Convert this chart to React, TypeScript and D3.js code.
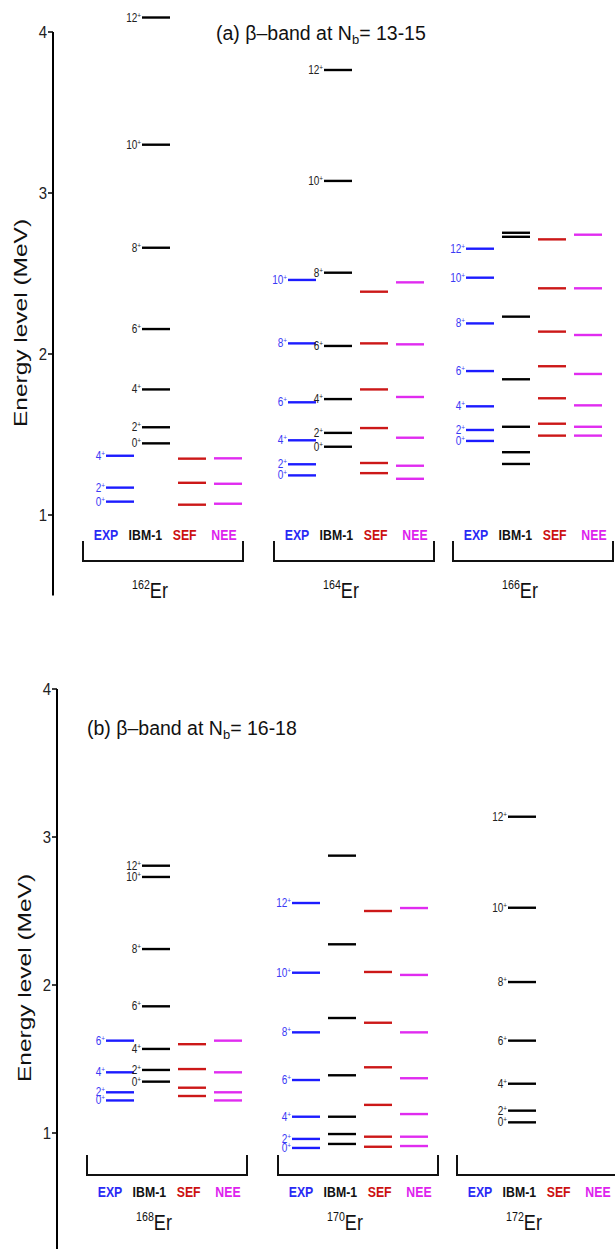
import React from "react";
import * as d3 from "d3";

// ---------- data ----------
const modelNames = ["EXP", "IBM-1", "SEF", "NEE"];
const spinLabels = ["0", "2", "4", "6", "8", "10", "12"];
const yTicks = [1, 2, 3, 4];
const isotopesA = ["162", "164", "166"];
const isotopesB = ["168", "170", "172"];

// level energies (MeV), ordered by spin 0+,2+,4+,...
const er162EXP = [1.083, 1.17, 1.368];
const er162IBM = [1.445, 1.545, 1.78, 2.155, 2.66, 3.3, 4.09];
const er162SEF = [1.064, 1.2, 1.35];
const er162NEE = [1.07, 1.194, 1.352];

const er164EXP = [1.246, 1.315, 1.464, 1.7, 2.066, 2.46];
const er164IBM = [1.424, 1.51, 1.72, 2.05, 2.505, 3.075, 3.764];
const er164SEF = [1.26, 1.323, 1.54, 1.78, 2.066, 2.387];
const er164NEE = [1.225, 1.306, 1.48, 1.733, 2.06, 2.445];

const er166EXP = [1.46, 1.528, 1.675, 1.894, 2.19, 2.474, 2.654];
const er166IBM = [1.317, 1.39, 1.548, 1.843, 2.232, 2.728, 2.753];
const er166SEF = [1.493, 1.567, 1.725, 1.924, 2.139, 2.408, 2.712];
const er166NEE = [1.493, 1.548, 1.681, 1.876, 2.118, 2.408, 2.741];

const er168EXP = [1.22, 1.275, 1.41, 1.624];
const er168IBM = [1.347, 1.426, 1.568, 1.856, 2.243, 2.73, 2.806];
const er168SEF = [1.25, 1.306, 1.432, 1.6];
const er168NEE = [1.22, 1.275, 1.41, 1.624];

const er170EXP = [0.899, 0.96, 1.11, 1.358, 1.68, 2.083, 2.554];
const er170IBM = [0.926, 0.993, 1.11, 1.39, 1.777, 2.275, 2.874];
const er170SEF = [0.907, 0.975, 1.19, 1.444, 1.745, 2.088, 2.5];
const er170NEE = [0.912, 0.975, 1.128, 1.37, 1.68, 2.068, 2.52];

const er172EXP: number[] = [];
const er172IBM = [1.072, 1.151, 1.333, 1.624, 2.02, 2.522, 3.137];
const er172SEF: number[] = [];
const er172NEE: number[] = [];

const levels: Record<string, number[][]> = {
  "162": [er162EXP, er162IBM, er162SEF, er162NEE],
  "164": [er164EXP, er164IBM, er164SEF, er164NEE],
  "166": [er166EXP, er166IBM, er166SEF, er166NEE],
  "168": [er168EXP, er168IBM, er168SEF, er168NEE],
  "170": [er170EXP, er170IBM, er170SEF, er170NEE],
  "172": [er172EXP, er172IBM, er172SEF, er172NEE],
};

// which model columns carry spin labels
const labelled: Record<string, string[]> = {
  "162": ["EXP", "IBM-1"],
  "164": ["EXP", "IBM-1"],
  "166": ["EXP"],
  "168": ["EXP", "IBM-1"],
  "170": ["EXP"],
  "172": ["IBM-1"],
};

// ---------- styles / layout ----------
const lineColor: Record<string, string> = {
  EXP: "#1c1cff",
  "IBM-1": "#000000",
  SEF: "#cc1818",
  NEE: "#e02cf0",
};
const textColor: Record<string, string> = {
  EXP: "#2a2af5",
  "IBM-1": "#111111",
  SEF: "#cc1111",
  NEE: "#dd22ee",
};
const colStart: Record<string, number> = {
  "162": 23, "164": 14, "166": 13, "168": 19, "170": 14, "172": 15,
};
const FONT = "Arial, 'Liberation Sans', sans-serif";
const COL_STEP = 36;
const COL_W = 28;
const BRACKET_W = 160;

function CText(props: {
  x: number;
  y: number;
  sx?: number;
  size: number;
  anchor?: string;
  fill?: string;
  weight?: string;
  children: React.ReactNode;
}) {
  const sx = props.sx ?? 0.85;
  return (
    <text
      transform={`translate(${props.x},${props.y}) scale(${sx},1)`}
      textAnchor={props.anchor ?? "start"}
      fontSize={props.size}
      fontFamily={FONT}
      fontWeight={props.weight ?? "normal"}
      fill={props.fill ?? "#111"}
    >
      {props.children}
    </text>
  );
}

type PanelProps = {
  isotopes: string[];
  groupX: number[];
  y: d3.ScaleLinear<number, number>;
  axisX: number;
  axisBottom: number;
  bracketTop: number;
  bracketBottom: number;
  modelLabelY: number;
  isoY: number;
  titleX: number;
  titleY: number;
  titleTag: string;
  titleRange: string;
  axisTitleX: number;
  axisTitleY: number;
};

function Panel(p: PanelProps) {
  const gx = d3.scaleOrdinal<string, number>().domain(p.isotopes).range(p.groupX);
  const labelX = d3.scalePoint<string>().domain(modelNames).range([23, 141]);
  return (
    <g>
      {/* axis */}
      <line x1={p.axisX} x2={p.axisX} y1={p.y(4)} y2={p.axisBottom} stroke="#000" strokeWidth={2} />
      {yTicks.map((t) => (
        <g key={t}>
          <line x1={p.axisX - 5} x2={p.axisX} y1={p.y(t)} y2={p.y(t)} stroke="#000" strokeWidth={1.5} />
          <CText x={p.axisX - 6} y={p.y(t) + 6} size={17} sx={0.88} anchor="end" fill="#222">
            {t}
          </CText>
        </g>
      ))}
      <text
        transform={`translate(${p.axisTitleX},${p.axisTitleY}) rotate(-90) scale(1,0.72)`}
        textAnchor="middle"
        fontSize={24.5}
        fontFamily={FONT}
        fill="#111"
      >
        Energy level (MeV)
      </text>
      <text x={p.titleX} y={p.titleY} fontSize={19.5} fontFamily={FONT} fill="#111">
        {p.titleTag} β–band at N
        <tspan fontSize={13} dy={4}>b</tspan>
        <tspan dy={-4}>= {p.titleRange}</tspan>
      </text>

      {p.isotopes.map((iso) => {
        const x0 = gx(iso);
        const colX = d3
          .scalePoint<string>()
          .domain(modelNames)
          .range([x0 + colStart[iso], x0 + colStart[iso] + 3 * COL_STEP]);
        return (
          <g key={iso}>
            {modelNames.map((m, mi) => {
              const cx = colX(m) as number;
              const vals = levels[iso][mi];
              const showLab = labelled[iso].includes(m);
              return (
                <g key={m}>
                  {vals.map((e, i) => (
                    <line
                      key={i}
                      x1={cx}
                      x2={cx + COL_W}
                      y1={p.y(e)}
                      y2={p.y(e)}
                      stroke={lineColor[m]}
                      strokeWidth={2.4}
                    />
                  ))}
                  {showLab &&
                    vals.map((e, i) => (
                      <CText
                        key={"l" + i}
                        x={cx - 1}
                        y={p.y(e) + 4}
                        size={12.5}
                        sx={0.8}
                        anchor="end"
                        fill={m === "EXP" ? "#3a3af5" : "#222"}
                      >
                        {spinLabels[i]}
                        <tspan dy={-4} fontSize={8}>+</tspan>
                      </CText>
                    ))}
                </g>
              );
            })}
            {/* bracket */}
            <path
              d={`M${x0},${p.bracketTop}V${p.bracketBottom}H${x0 + BRACKET_W}V${p.bracketTop}`}
              fill="none"
              stroke="#111"
              strokeWidth={2}
            />
            {modelNames.map((m) => (
              <CText
                key={"ml" + m}
                x={x0 + (labelX(m) as number)}
                y={p.modelLabelY}
                size={15}
                sx={0.82}
                anchor="middle"
                weight="bold"
                fill={textColor[m]}
              >
                {m}
              </CText>
            ))}
            <CText x={x0 + 67} y={p.isoY} size={21} sx={0.82} anchor="middle">
              <tspan fontSize={13} dy={-9}>{iso}</tspan>
              <tspan fontSize={22} dy={9}>Er</tspan>
            </CText>
          </g>
        );
      })}
    </g>
  );
}

export default function App() {
  const yA = d3.scaleLinear().domain([1, 4]).range([515, 32]);
  const yB = d3.scaleLinear().domain([1, 4]).range([1133, 689]);
  return (
    <svg
      width={615}
      height={1249}
      style={{ position: "absolute", left: 0, top: 0, background: "#fff" }}
    >
      <rect width={615} height={1249} fill="#fff" />
      <Panel
        isotopes={isotopesA}
        groupX={[83, 274, 453]}
        y={yA}
        axisX={53}
        axisBottom={yA(0.5)}
        bracketTop={541}
        bracketBottom={561}
        modelLabelY={540}
        isoY={598}
        titleX={216}
        titleY={40}
        titleTag="(a)"
        titleRange="13-15"
        axisTitleX={27}
        axisTitleY={323}
      />
      <Panel
        isotopes={isotopesB}
        groupX={[87, 278, 457]}
        y={yB}
        axisX={57}
        axisBottom={1249}
        bracketTop={1155}
        bracketBottom={1175}
        modelLabelY={1197}
        isoY={1230}
        titleX={87}
        titleY={735}
        titleTag="(b)"
        titleRange="16-18"
        axisTitleX={31}
        axisTitleY={978}
      />
    </svg>
  );
}
